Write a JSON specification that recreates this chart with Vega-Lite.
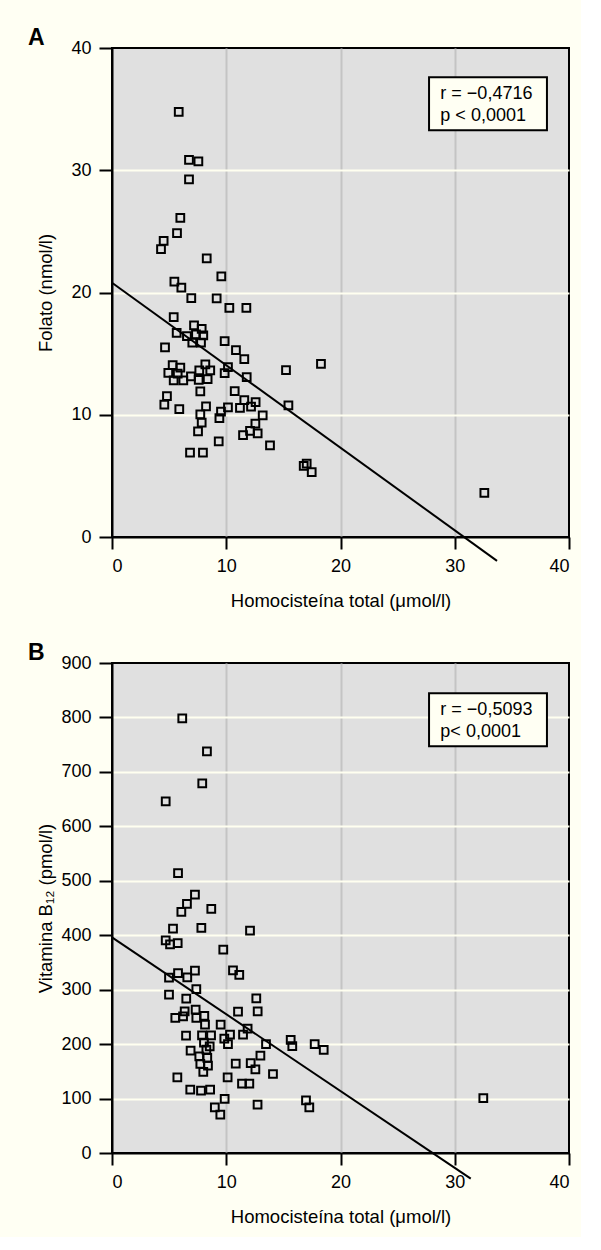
{
  "$schema": "https://vega.github.io/schema/vega-lite/v6.json",
  "background": "#FFFFF3",
  "padding": {"left": 27, "top": 26, "right": 10, "bottom": 10},
  "bounds": "flush",
  "spacing": 126,
  "config": {
    "font": "Liberation Sans",
    "view": {"fill": "#E0E0E0", "stroke": "#000000", "strokeWidth": 2},
    "axis": {
      "domainColor": "#000000", "domainWidth": 2,
      "tickColor": "#000000", "tickWidth": 2,
      "labelColor": "#000000", "labelFont": "Liberation Sans", "labelFontSize": 18,
      "titleColor": "#000000", "titleFont": "Liberation Sans", "titleFontSize": 18.5, "titleFontWeight": "normal",
      "gridWidth": 2
    }
  },
  "datasets": {
    "folato": [
      {"hcy": 5.84, "folato": 34.78}, {"hcy": 6.74, "folato": 30.85}, {"hcy": 7.56, "folato": 30.72}, {"hcy": 6.74, "folato": 29.25},
      {"hcy": 5.98, "folato": 26.1}, {"hcy": 5.69, "folato": 24.86}, {"hcy": 4.52, "folato": 24.23}, {"hcy": 4.29, "folato": 23.55},
      {"hcy": 8.29, "folato": 22.79}, {"hcy": 9.57, "folato": 21.32}, {"hcy": 5.46, "folato": 20.88}, {"hcy": 6.07, "folato": 20.39},
      {"hcy": 6.94, "folato": 19.54}, {"hcy": 9.16, "folato": 19.52}, {"hcy": 10.27, "folato": 18.75}, {"hcy": 11.76, "folato": 18.75},
      {"hcy": 5.4, "folato": 17.99}, {"hcy": 7.18, "folato": 17.31}, {"hcy": 7.85, "folato": 17.03}, {"hcy": 5.66, "folato": 16.7},
      {"hcy": 6.56, "folato": 16.43}, {"hcy": 7.35, "folato": 16.57}, {"hcy": 7.99, "folato": 16.49}, {"hcy": 7.03, "folato": 15.89},
      {"hcy": 7.79, "folato": 15.89}, {"hcy": 4.64, "folato": 15.51}, {"hcy": 9.86, "folato": 16.03}, {"hcy": 10.85, "folato": 15.29},
      {"hcy": 11.58, "folato": 14.55}, {"hcy": 18.29, "folato": 14.17}, {"hcy": 15.23, "folato": 13.65}, {"hcy": 5.31, "folato": 14.06},
      {"hcy": 5.98, "folato": 13.85}, {"hcy": 8.17, "folato": 14.12}, {"hcy": 4.93, "folato": 13.43}, {"hcy": 5.75, "folato": 13.36},
      {"hcy": 6.91, "folato": 13.14}, {"hcy": 7.64, "folato": 13.63}, {"hcy": 8.6, "folato": 13.63}, {"hcy": 10.15, "folato": 13.9},
      {"hcy": 9.86, "folato": 13.41}, {"hcy": 11.79, "folato": 13.08}, {"hcy": 5.4, "folato": 12.81}, {"hcy": 6.24, "folato": 12.81},
      {"hcy": 7.59, "folato": 12.86}, {"hcy": 8.37, "folato": 12.92}, {"hcy": 7.73, "folato": 11.91}, {"hcy": 10.74, "folato": 11.94},
      {"hcy": 4.81, "folato": 11.53}, {"hcy": 4.58, "folato": 10.82}, {"hcy": 5.89, "folato": 10.47}, {"hcy": 8.23, "folato": 10.69},
      {"hcy": 11.58, "folato": 11.2}, {"hcy": 12.57, "folato": 11.04}, {"hcy": 10.15, "folato": 10.6}, {"hcy": 11.2, "folato": 10.57},
      {"hcy": 12.17, "folato": 10.66}, {"hcy": 15.44, "folato": 10.77}, {"hcy": 7.73, "folato": 10.03}, {"hcy": 9.54, "folato": 10.25},
      {"hcy": 9.4, "folato": 9.73}, {"hcy": 13.19, "folato": 9.95}, {"hcy": 7.85, "folato": 9.35}, {"hcy": 12.55, "folato": 9.27},
      {"hcy": 7.53, "folato": 8.64}, {"hcy": 12.08, "folato": 8.69}, {"hcy": 12.75, "folato": 8.48}, {"hcy": 11.47, "folato": 8.34},
      {"hcy": 9.34, "folato": 7.82}, {"hcy": 13.83, "folato": 7.5}, {"hcy": 6.83, "folato": 6.9}, {"hcy": 7.96, "folato": 6.9},
      {"hcy": 16.78, "folato": 5.81}, {"hcy": 17.04, "folato": 6.0}, {"hcy": 17.48, "folato": 5.31}, {"hcy": 32.59, "folato": 3.6}
    ],
    "lineA": [{"hcy": 0, "folato": 20.8}, {"hcy": 33.7, "folato": -1.95}],
    "b12": [
      {"hcy": 6.15, "b12": 798.5}, {"hcy": 8.31, "b12": 737.9}, {"hcy": 7.9, "b12": 679}, {"hcy": 4.7, "b12": 646},
      {"hcy": 5.78, "b12": 514}, {"hcy": 7.26, "b12": 474.6}, {"hcy": 6.56, "b12": 457.4}, {"hcy": 6.07, "b12": 442.7},
      {"hcy": 8.69, "b12": 448.2}, {"hcy": 5.34, "b12": 412.2}, {"hcy": 7.82, "b12": 413.3}, {"hcy": 12.08, "b12": 408.5},
      {"hcy": 4.7, "b12": 390.7}, {"hcy": 5.08, "b12": 383.4}, {"hcy": 5.75, "b12": 385.7}, {"hcy": 9.74, "b12": 373.6},
      {"hcy": 5.78, "b12": 330.6}, {"hcy": 7.26, "b12": 335}, {"hcy": 10.59, "b12": 335.6}, {"hcy": 11.14, "b12": 327},
      {"hcy": 4.99, "b12": 322.2}, {"hcy": 6.59, "b12": 322.7}, {"hcy": 7.38, "b12": 301.2}, {"hcy": 4.99, "b12": 291},
      {"hcy": 6.5, "b12": 283.6}, {"hcy": 12.63, "b12": 284.2}, {"hcy": 12.75, "b12": 260.3}, {"hcy": 11.03, "b12": 259.7},
      {"hcy": 6.36, "b12": 260.3}, {"hcy": 7.32, "b12": 263.4}, {"hcy": 5.54, "b12": 248}, {"hcy": 6.22, "b12": 251.1},
      {"hcy": 7.38, "b12": 248}, {"hcy": 8.08, "b12": 251.7}, {"hcy": 8.14, "b12": 235.8}, {"hcy": 9.51, "b12": 235.8},
      {"hcy": 11.87, "b12": 228.5}, {"hcy": 6.48, "b12": 215.6}, {"hcy": 7.88, "b12": 216.2}, {"hcy": 8.67, "b12": 216.2},
      {"hcy": 10.33, "b12": 217.5}, {"hcy": 11.47, "b12": 217.5}, {"hcy": 9.83, "b12": 210.1}, {"hcy": 8.05, "b12": 202.8},
      {"hcy": 10.15, "b12": 200.2}, {"hcy": 8.55, "b12": 196}, {"hcy": 13.48, "b12": 200.2}, {"hcy": 15.64, "b12": 207.6},
      {"hcy": 15.78, "b12": 196.5}, {"hcy": 17.74, "b12": 200.2}, {"hcy": 18.53, "b12": 189.2}, {"hcy": 6.88, "b12": 188.1},
      {"hcy": 8.26, "b12": 189.9}, {"hcy": 12.99, "b12": 178.9}, {"hcy": 7.64, "b12": 177.6}, {"hcy": 8.34, "b12": 174.5},
      {"hcy": 12.14, "b12": 165.3}, {"hcy": 10.83, "b12": 164.2}, {"hcy": 7.73, "b12": 163.5}, {"hcy": 8.4, "b12": 160.5},
      {"hcy": 12.55, "b12": 153.7}, {"hcy": 7.99, "b12": 148.8}, {"hcy": 14.09, "b12": 145.1}, {"hcy": 5.72, "b12": 139},
      {"hcy": 10.12, "b12": 139}, {"hcy": 11.38, "b12": 127.5}, {"hcy": 12.02, "b12": 127.5}, {"hcy": 6.85, "b12": 116.5},
      {"hcy": 7.79, "b12": 114.6}, {"hcy": 8.59, "b12": 116.5}, {"hcy": 9.86, "b12": 99.2}, {"hcy": 9.0, "b12": 84},
      {"hcy": 9.48, "b12": 70.5}, {"hcy": 12.74, "b12": 88.9}, {"hcy": 16.98, "b12": 96.8}, {"hcy": 17.27, "b12": 84},
      {"hcy": 32.5, "b12": 101}
    ],
    "lineB": [{"hcy": 0, "b12": 396}, {"hcy": 31.4, "b12": -47}]
  },
  "vconcat": [
    {
      "width": 457,
      "height": 489,
      "title": {"text": "A", "anchor": "start", "frame": "group", "dx": -84, "dy": 29, "offset": 0, "fontSize": 23, "fontWeight": "bold", "font": "Liberation Sans", "color": "#000000", "baseline": "alphabetic"},
      "layer": [
        {
          "data": {"name": "folato"},
          "mark": {"type": "point", "shape": "square", "size": 60, "strokeWidth": 2, "color": "#000000", "filled": false, "opacity": 1},
          "encoding": {
            "x": {"field": "hcy", "type": "quantitative", "scale": {"domain": [0, 40], "nice": false},
              "axis": {"title": "Homocisteína total (μmol/l)", "values": [0, 10, 20, 30, 40], "tickSize": 12, "labelBaseline": "alphabetic", "labelPadding": 22, "titleY": 69, "titleBaseline": "alphabetic",
                "gridColor": "#C4C4C4", "gridOpacity": {"condition": {"test": "datum.value === 0 || datum.value === 40", "value": 0}, "value": 1}}},
            "y": {"field": "folato", "type": "quantitative", "scale": {"domain": [0, 40], "nice": false},
              "axis": {"title": "Folato (nmol/l)", "values": [0, 10, 20, 30, 40], "tickSize": 13, "labelPadding": 8, "titleX": -61, "titleY": 244.5, "titleAngle": -90, "titleBaseline": "alphabetic", "titleAlign": "center",
                "gridColor": "#FFFFF0", "gridOpacity": {"condition": {"test": "datum.value === 0 || datum.value === 40", "value": 0}, "value": 1}}}
          }
        },
        {
          "data": {"name": "lineA"},
          "mark": {"type": "line", "color": "#000000", "strokeWidth": 2, "clip": false},
          "encoding": {"x": {"field": "hcy", "type": "quantitative"}, "y": {"field": "folato", "type": "quantitative"}}
        },
        {
          "data": {"values": [{}]},
          "mark": {"type": "rect", "fill": "#FFFFF3", "stroke": "#000000", "strokeWidth": 2},
          "encoding": {"x": {"datum": 27.75, "type": "quantitative"}, "x2": {"datum": 38.07}, "y": {"datum": 37.61, "type": "quantitative"}, "y2": {"datum": 33.28}}
        },
        {
          "data": {"values": [{}]},
          "mark": {"type": "text", "align": "left", "baseline": "alphabetic", "fontSize": 18, "font": "Liberation Sans", "color": "#000000", "text": "r = −0,4716"},
          "encoding": {"x": {"datum": 28.74, "type": "quantitative"}, "y": {"datum": 35.81, "type": "quantitative"}}
        },
        {
          "data": {"values": [{}]},
          "mark": {"type": "text", "align": "left", "baseline": "alphabetic", "fontSize": 18, "font": "Liberation Sans", "color": "#000000", "text": "p < 0,0001"},
          "encoding": {"x": {"datum": 28.74, "type": "quantitative"}, "y": {"datum": 34.01, "type": "quantitative"}}
        }
      ]
    },
    {
      "width": 457,
      "height": 490,
      "title": {"text": "B", "anchor": "start", "frame": "group", "dx": -84, "dy": 29, "offset": 0, "fontSize": 23, "fontWeight": "bold", "font": "Liberation Sans", "color": "#000000", "baseline": "alphabetic"},
      "layer": [
        {
          "data": {"name": "b12"},
          "mark": {"type": "point", "shape": "square", "size": 60, "strokeWidth": 2, "color": "#000000", "filled": false, "opacity": 1},
          "encoding": {
            "x": {"field": "hcy", "type": "quantitative", "scale": {"domain": [0, 40], "nice": false},
              "axis": {"title": "Homocisteína total (μmol/l)", "values": [0, 10, 20, 30, 40], "tickSize": 12, "labelBaseline": "alphabetic", "labelPadding": 22, "titleY": 69, "titleBaseline": "alphabetic",
                "gridColor": "#C4C4C4", "gridOpacity": {"condition": {"test": "datum.value === 0 || datum.value === 40", "value": 0}, "value": 1}}},
            "y": {"field": "b12", "type": "quantitative", "scale": {"domain": [0, 900], "nice": false},
              "axis": {"title": "Vitamina B₁₂ (pmol/l)", "values": [0, 100, 200, 300, 400, 500, 600, 700, 800, 900], "tickSize": 13, "labelPadding": 8, "titleX": -61, "titleY": 245, "titleAngle": -90, "titleBaseline": "alphabetic", "titleAlign": "center",
                "gridColor": "#FFFFF0", "gridOpacity": {"condition": {"test": "datum.value === 0 || datum.value === 900", "value": 0}, "value": 1}}}
          }
        },
        {
          "data": {"name": "lineB"},
          "mark": {"type": "line", "color": "#000000", "strokeWidth": 2, "clip": false},
          "encoding": {"x": {"field": "hcy", "type": "quantitative"}, "y": {"field": "b12", "type": "quantitative"}}
        },
        {
          "data": {"values": [{}]},
          "mark": {"type": "rect", "fill": "#FFFFF3", "stroke": "#000000", "strokeWidth": 2},
          "encoding": {"x": {"datum": 27.75, "type": "quantitative"}, "x2": {"datum": 38.07}, "y": {"datum": 844.4, "type": "quantitative"}, "y2": {"datum": 747.1}}
        },
        {
          "data": {"values": [{}]},
          "mark": {"type": "text", "align": "left", "baseline": "alphabetic", "fontSize": 18, "font": "Liberation Sans", "color": "#000000", "text": "r = −0,5093"},
          "encoding": {"x": {"datum": 28.74, "type": "quantitative"}, "y": {"datum": 804.0, "type": "quantitative"}}
        },
        {
          "data": {"values": [{}]},
          "mark": {"type": "text", "align": "left", "baseline": "alphabetic", "fontSize": 18, "font": "Liberation Sans", "color": "#000000", "text": "p< 0,0001"},
          "encoding": {"x": {"datum": 28.74, "type": "quantitative"}, "y": {"datum": 763.6, "type": "quantitative"}}
        }
      ]
    }
  ]
}
